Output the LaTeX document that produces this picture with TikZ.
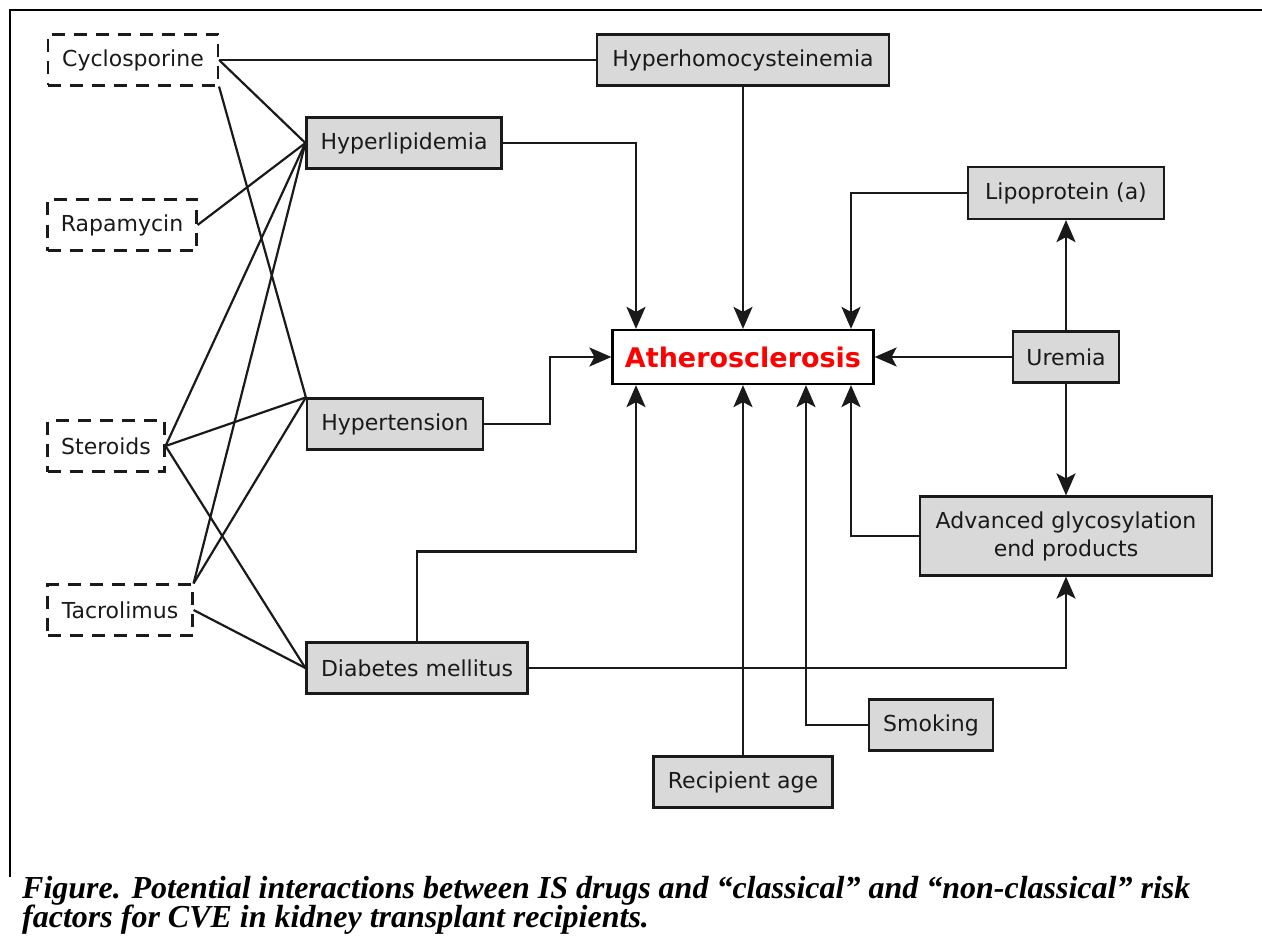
\documentclass[tikz,border=0pt]{standalone}
\usepackage{fontspec}
\setmainfont{DejaVu Sans}
\newfontfamily\capfont{Liberation Serif}
\usetikzlibrary{arrows.meta}

\definecolor{boxgray}{HTML}{D9D9D9}
\definecolor{inkgray}{HTML}{1A1A1A}

\tikzset{
  drug/.style={draw=inkgray, line width=2.1pt, dash pattern=on 13pt off 9pt,
    inner sep=0pt, minimum height=51pt, text=inkgray,
    font=\fontsize{22}{26}\selectfont},
  factor/.style={draw=inkgray, fill=boxgray, line width=2.2pt, inner sep=0pt,
    minimum height=51pt, text=inkgray, font=\fontsize{22}{28}\selectfont},
  link/.style={line width=2.2pt, inkgray},
  arr/.style={link, -{Stealth[length=22pt,width=19pt,inset=5pt]}},
  caption/.style={anchor=base west, inner sep=0pt,
    font=\capfont\bfseries\itshape\fontsize{32}{32}\selectfont}
}

\begin{document}
\begin{tikzpicture}[x=1pt,y=-1pt]
            \useasboundingbox (0,0) rectangle (1262,939);
            % frame
            \draw[line width=2.8pt] (10,877) -- (10,10) -- (1262,10);
%
            % drugs
            \node[drug, minimum width=170pt] (cyc)  at (133,60)  {Cyclosporine};
            \node[drug, minimum width=149pt] (rapa) at (122,225) {Rapamycin};
            \node[drug, minimum width=117pt] (ster) at (106,446) {Steroids};
            \node[drug, minimum width=145pt] (tacr) at (120,610) {Tacrolimus};
%
            % risk factors
            \node[factor, minimum width=195pt] (hlip) at (404,143) {Hyperlipidemia};
            \node[factor, minimum width=176pt] (hypt) at (395,424) {Hypertension};
            \node[factor, minimum width=221pt] (diab) at (417,668) {Diabetes mellitus};
            \node[factor, minimum width=292pt] (hhcy) at (743,60)  {Hyperhomocysteinemia};
            \node[factor, minimum width=196pt, minimum height=52pt] (lipo) at (1066,193) {Lipoprotein (a)};
            \node[factor, minimum width=106pt] (ure)  at (1066,357) {Uremia};
            \node[factor, minimum width=292pt, minimum height=79pt, align=center] (adv) at (1066,536)
                {Advanced glycosylation\\end products};
            \node[factor, minimum width=124pt] (smok) at (931,725) {Smoking};
            \node[factor, minimum width=179pt] (age)  at (743,782) {Recipient age};
            \node[draw, fill=white, line width=2.2pt, minimum width=261pt, minimum height=54pt,
                inner sep=0pt, text=red, font=\bfseries\fontsize{27}{30}\selectfont] (ath) at (743,357)
                {Atherosclerosis};
%
            % drug links
            \draw[link] (cyc.east) -- (hhcy.west);
            \draw[link] (cyc.east) -- (hlip.west);
            \draw[link] (cyc.south east) -- (hypt.north west);
            \draw[link] (rapa.east) -- (hlip.west);
            \draw[link] (ster.east) -- (hlip.west);
            \draw[link] (ster.east) -- (hypt.north west);
            \draw[link] (ster.east) -- (diab.west);
            \draw[link] (tacr.north east) -- (hlip.west);
            \draw[link] (tacr.north east) -- (hypt.north west);
            \draw[link] (tacr.east) -- (diab.west);
%
            % arrows
            \draw[arr] (hlip.east) -| ([xshift=-107pt]ath.north);
            \draw[arr] (hhcy) -- (ath);
            \draw[arr] (lipo.west) -| ([xshift=108pt]ath.north);
            \draw[arr] (hypt.east) -- ++(66,0) |- (ath.west);
            \draw[arr] (diab.north) -- ++(0,-90) -| ([xshift=-107pt]ath.south);
            \draw[arr] (age) -- (ath);
            \draw[arr] (smok.west) -| ([xshift=63pt]ath.south);
            \draw[arr] (adv.west) -| ([xshift=108pt]ath.south);
            \draw[arr] (ure) -- (ath);
            \draw[arr] (ure) -- (lipo);
            \draw[arr] (ure) -- (adv);
            \draw[arr] (diab.east) -| (adv.south);
%
            % caption
            \node[caption] (cap1) at (22,898) {Figure. Potential interactions between IS drugs and “classical” and “non-classical” risk};
            \node[caption] (cap2) at (22,927) {factors for CVE in kidney transplant recipients.};
        \end{tikzpicture}
\end{document}
